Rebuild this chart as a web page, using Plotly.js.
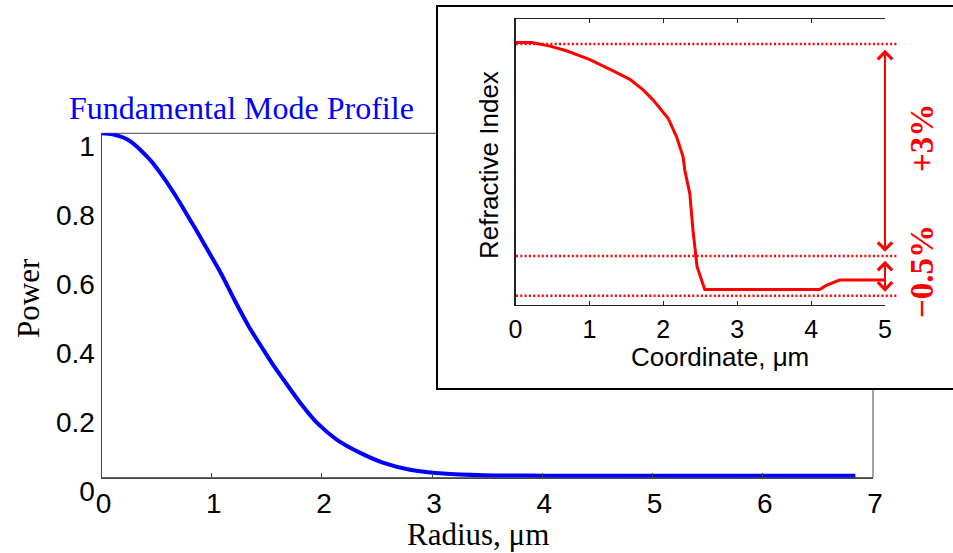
<!DOCTYPE html>
<html>
<head>
<meta charset="utf-8">
<script src="https://cdn.plot.ly/plotly-3.0.1.min.js"></script>
<style>html,body{margin:0;padding:0;background:#fff;}#chart{width:953px;height:553px;}</style>
</head>
<body>
<div id="chart"></div>
<script>
// Main chart: fundamental mode profile
const modeRadius = [0, 0.1, 0.247, 0.429, 0.549, 0.67, 0.76, 0.85, 0.972, 1.093, 1.215, 1.335, 1.456, 1.56, 1.653, 1.804, 1.956, 2.137, 2.348, 2.559, 2.80, 3.10, 3.47, 4.0, 5.0, 6.0, 6.84];
const modePower  = [1.0, 0.997, 0.980, 0.927, 0.878, 0.820, 0.772, 0.724, 0.656, 0.588, 0.511, 0.440, 0.378, 0.326, 0.284, 0.217, 0.159, 0.110, 0.072, 0.043, 0.023, 0.012, 0.007, 0.006, 0.006, 0.006, 0.006];
const mainXTicks = [0, 1, 2, 3, 4, 5, 6, 7];
const mainYTicks = [0, 0.2, 0.4, 0.6, 0.8, 1];
const mainYTickText = ['0', '0.2', '0.4', '0.6', '0.8', '1'];

// Inset: refractive index profile (relative index, %)
const coord = [0, 0.22, 0.466, 0.69, 1.007, 1.14, 1.32, 1.547, 1.727, 1.86, 1.997, 2.065, 2.178, 2.268, 2.29, 2.358, 2.403, 2.457, 2.561, 4.115, 4.2, 4.385, 5.0];
const index = [3.02, 3.02, 2.97, 2.905, 2.78, 2.717, 2.62, 2.50, 2.35, 2.21, 2.04, 1.95, 1.69, 1.405, 1.217, 0.887, 0.35, -0.151, -0.475, -0.475, -0.42, -0.34, -0.34];
const insetXTicks = [0, 1, 2, 3, 4, 5];
const refLevels = [3, 0, -0.562];       // dotted reference levels
const bigArrow = [2.94, 0.06];          // +3% arrow ends
const smallArrow = [-0.047, -0.505];    // -0.5% arrow ends
const labelPlus = '+3%';
const labelMinus = '\u22120.5%';

const W = 953, H = 553;
const px = v => v / W;
const py = v => 1 - v / H;

const serif = 'Liberation Serif, Times New Roman, serif';
const sans = 'Liberation Sans, Arial, sans-serif';

const traces = [
  {x: modeRadius, y: modePower, xaxis: 'x', yaxis: 'y', type: 'scatter', mode: 'lines',
   line: {color: '#0000ff', width: 4, shape: 'spline', smoothing: 0.8}, hoverinfo: 'skip'},
  {x: coord, y: index, xaxis: 'x2', yaxis: 'y2', type: 'scatter', mode: 'lines',
   line: {color: '#ff0000', width: 3}, hoverinfo: 'skip'}
];

const shapes = [
  // main axes box (top/right edges partially hidden by inset)
  {type: 'rect', xref: 'paper', yref: 'paper', x0: px(101.5), x1: px(873), y0: py(477.7), y1: py(133.3),
   line: {color: '#444', width: 1}, fillcolor: 'rgba(0,0,0,0)', layer: 'below'},
  // inset frame
  {type: 'rect', xref: 'paper', yref: 'paper', x0: px(437), x1: px(962), y0: py(389), y1: py(6),
   line: {color: '#000', width: 2}, fillcolor: '#ffffff', layer: 'below'}
];
refLevels.forEach(v => shapes.push({
  type: 'line', xref: 'paper', yref: 'y2', x0: px(516), x1: px(898), y0: v, y1: v,
  line: {color: '#ff0000', width: 2.5, dash: '2px,2.3px'}, layer: 'above'
}));

const annotations = [
  {text: 'Radius, \u03bcm', xref: 'paper', yref: 'paper', x: px(478), y: py(534), showarrow: false,
   xanchor: 'center', yanchor: 'middle', font: {family: serif, size: 31, color: '#000'}},
  {text: 'Power', xref: 'paper', yref: 'paper', x: px(28), y: py(298), showarrow: false, textangle: -90,
   xanchor: 'center', yanchor: 'middle', font: {family: serif, size: 31, color: '#000'}},
  {text: 'Refractive Index', xref: 'paper', yref: 'paper', x: px(489), y: py(165), showarrow: false, textangle: -90,
   xanchor: 'center', yanchor: 'middle', font: {family: sans, size: 26, color: '#000'}},
  {text: 'Coordinate, \u03bcm', xref: 'paper', yref: 'paper', x: px(720), y: py(357), showarrow: false,
   xanchor: 'center', yanchor: 'middle', font: {family: sans, size: 26, color: '#000'}},
  {text: '<b>' + labelPlus + '</b>', xref: 'paper', yref: 'paper', x: px(922), y: py(138), showarrow: false, textangle: -90,
   xanchor: 'center', yanchor: 'middle', font: {family: serif, size: 33, color: '#ff0000'}},
  {text: '<b>' + labelMinus + '</b>', xref: 'paper', yref: 'paper', x: px(922), y: py(272), showarrow: false, textangle: -90,
   xanchor: 'center', yanchor: 'middle', font: {family: serif, size: 33, color: '#ff0000'}}
];
[bigArrow, smallArrow].forEach(a => annotations.push({
  text: '', xref: 'x2', yref: 'y2', axref: 'x2', ayref: 'y2',
  x: insetXTicks[insetXTicks.length - 1], y: a[1], ax: insetXTicks[insetXTicks.length - 1], ay: a[0],
  showarrow: true, arrowside: 'end+start', arrowhead: 4, startarrowhead: 4,
  arrowsize: 1.4, startarrowsize: 1.4, arrowwidth: 2, arrowcolor: '#ff0000',
  standoff: 0, startstandoff: 0
}));

const layout = {
  width: W, height: H,
  margin: {l: 0, r: 0, t: 0, b: 0},
  paper_bgcolor: '#ffffff', plot_bgcolor: 'rgba(0,0,0,0)',
  showlegend: false,
  title: {text: 'Fundamental Mode Profile', x: px(69), xanchor: 'left', xref: 'paper',
          y: py(108), yanchor: 'middle', yref: 'container',
          font: {family: serif, size: 32, color: '#0000ff'}},
  xaxis: {domain: [px(101.5), px(873)], range: [0, 7], anchor: 'y',
          tickvals: mainXTicks, ticks: 'inside', ticklen: 5, tickcolor: '#444', tickwidth: 1,
          showline: true, linecolor: '#444', linewidth: 1, showgrid: false, zeroline: false,
          ticklabelstandoff: 1, ticklabelshift: 2, tickfont: {family: sans, size: 28, color: '#000'}},
  yaxis: {domain: [py(477.7), py(133.3)], range: [0, 1], anchor: 'x',
          tickvals: mainYTicks, ticktext: mainYTickText, ticks: '', ticklabelshift: 13, ticklabelstandoff: 0,
          showline: true, linecolor: '#444', linewidth: 1, showgrid: false, zeroline: false,
          tickfont: {family: sans, size: 28, color: '#000'}},
  xaxis2: {domain: [px(515.5), px(885)], range: [0, 5], anchor: 'y2',
           tickvals: insetXTicks, ticks: 'inside', ticklen: 4, tickcolor: '#222', tickwidth: 1, mirror: 'ticks',
           showline: true, linecolor: '#222', linewidth: 1, showgrid: false, zeroline: false,
           ticklabelstandoff: 2, tickfont: {family: sans, size: 25, color: '#000'}},
  yaxis2: {domain: [py(305), py(19)], range: [-0.693, 3.354], anchor: 'x2',
           showticklabels: false, ticks: '',
           showline: true, linecolor: '#222', linewidth: 2, showgrid: false, zeroline: false},
  shapes: shapes,
  annotations: annotations
};

Plotly.newPlot('chart', traces, layout, {staticPlot: true, displayModeBar: false});
</script>
</body>
</html>
